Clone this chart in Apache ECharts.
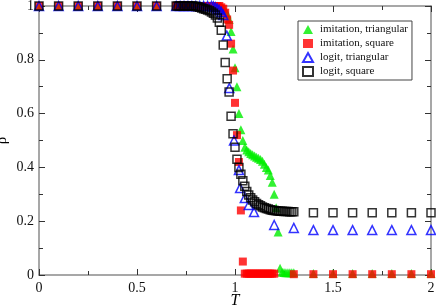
<!DOCTYPE html>
<html>
<head>
<meta charset="utf-8">
<script src="https://cdn.jsdelivr.net/npm/echarts@6/dist/echarts.min.js"></script>
<style>html,body{margin:0;padding:0;background:#fff}#c{width:436px;height:308px}</style>
</head>
<body>
<div id="c"></div>
<script>
// Temperatures (T) and densities (rho)
var coarseT = [0, 0.1, 0.2, 0.3, 0.4, 0.5, 0.6];
var coarseRho = [1, 1, 1, 1, 1, 1, 1];

// imitation, triangular (green)
var imTriT = [0.70,0.71,0.72,0.73,0.74,0.75,0.76,0.77,0.78,0.79,0.80,0.81,0.82,0.83,0.84,0.85,0.86,0.87,0.88,0.89,0.90,
  0.91,0.92,0.93,0.94,0.95,0.96,0.97,0.98,0.99,1.00,1.01,1.02,1.03,1.04,1.05,1.06,1.07,1.08,1.09,1.10,
  1.11,1.12,1.13,1.14,1.15,1.16,1.17,1.18,1.19,1.20,1.21,1.22,1.23,1.24,1.25,1.26,1.27,1.28,1.29,1.30,
  1.4,1.5,1.6,1.7,1.8,1.9,2.0];
var imTriRho = [1,1,1,1,1,1,1,1,1,1,1,1,1,1,1,1,1,1,1,1,1,
  0.999,0.998,0.995,0.99,0.985,0.97,0.95,0.905,0.84,0.77,0.70,0.60,0.54,0.50,0.475,0.465,0.458,0.452,0.447,0.442,
  0.438,0.434,0.429,0.423,0.412,0.40,0.39,0.37,0.345,0.30,0.25,0.16,0.025,0.01,0.009,0.008,0.008,0.008,0.008,0.008,
  0.006,0.006,0.006,0.006,0.006,0.006,0.006];

// imitation, square (red)
var imSqT = [0.70,0.71,0.72,0.73,0.74,0.75,0.76,0.77,0.78,0.79,0.80,0.81,0.82,0.83,0.84,0.85,0.86,0.87,0.88,0.89,0.90,
  0.91,0.92,0.93,0.94,0.95,0.96,0.97,0.98,0.99,1.00,1.01,1.02,1.03,1.04,1.05,1.06,1.07,1.08,1.09,1.10,
  1.11,1.12,1.13,1.14,1.15,1.16,1.17,1.18,1.19,1.20,
  1.3,1.4,1.5,1.6,1.7,1.8,1.9,2.0];
var imSqRho = [1,1,1,1,1,1,1,1,1,1,1,1,1,1,1,1,1,1,1,1,1,
  1,1,0.995,0.99,0.975,0.95,0.93,0.86,0.76,0.64,0.52,0.42,0.24,0.05,0.005,0.005,0.005,0.005,0.005,0.005,
  0.005,0.005,0.005,0.005,0.005,0.005,0.005,0.005,0.005,0.005,
  0.003,0.003,0.003,0.003,0.003,0.003,0.003,0.003];

// logit, triangular (blue)
var loTriT = [0.70,0.72,0.74,0.76,0.78,0.80,0.82,0.84,0.86,0.88,0.89,0.90,0.91,0.92,0.93,
  0.94,0.958,0.971,0.995,1.02,1.026,1.05,1.07,1.097,1.2,1.3,1.4,1.5,1.6,1.7,1.8,1.9,2.0];
var loTriRho = [1,1,1,1,1,1,1,1,1,1,0.998,0.995,0.99,0.985,0.978,
  0.967,0.89,0.695,0.50,0.39,0.323,0.286,0.26,0.234,0.186,0.175,0.167,0.167,0.167,0.167,0.167,0.167,0.167];

// logit, square (black)
var loSqT = [0.70,0.71,0.72,0.73,0.74,0.75,0.76,0.77,0.78,0.79,0.80,0.81,0.82,0.83,0.84,0.85,0.86,0.87,0.88,0.89,0.90,
  0.91,0.92,0.93,0.94,0.95,0.96,0.97,0.98,0.99,1.00,1.01,1.02,1.03,1.04,1.05,1.06,1.07,1.08,1.09,1.10,
  1.11,1.12,1.13,1.14,1.15,1.16,1.17,1.18,1.19,1.20,1.21,1.22,1.23,1.24,1.25,1.26,1.27,1.28,1.29,1.30,
  1.4,1.5,1.6,1.7,1.8,1.9,2.0];
var loSqRho = [1,1,1,1,1,1,1,1,1,1,0.998,0.997,0.995,0.993,0.99,0.988,0.985,0.982,0.978,0.973,0.967,
  0.955,0.94,0.91,0.855,0.79,0.73,0.68,0.59,0.525,0.475,0.43,0.40,0.375,0.35,0.33,0.31,0.297,0.287,0.279,0.272,
  0.266,0.261,0.257,0.253,0.250,0.247,0.245,0.243,0.241,0.240,0.239,0.238,0.237,0.237,0.236,0.236,0.236,0.235,0.235,0.235,
  0.231,0.231,0.231,0.231,0.231,0.231,0.231];

var xTicks = [0, 0.5, 1, 1.5, 2];
var yTicks = [0, 0.2, 0.4, 0.6, 0.8, 1];

function pts(tA, rA) {
  var out = [];
  for (var i = 0; i < coarseT.length; i++) out.push([coarseT[i], coarseRho[i]]);
  for (var j = 0; j < tA.length; j++) out.push([tA[j], rA[j]]);
  return out;
}

var serif = 'Liberation Serif, Times New Roman, serif';
var axisCol = '#8a8a8a';

function mkX(pos, show) {
  return {
    type: 'value', position: pos, min: xTicks[0], max: xTicks[xTicks.length-1], interval: 0.5,
    name: show ? 'T' : '', nameLocation: 'middle', nameGap: 18, nameMoveOverlap: false,
    nameTextStyle: {fontFamily: serif, fontStyle: 'italic', fontSize: 16, color: '#000', verticalAlign: 'top'},
    axisLine: {show: true, onZero: false, lineStyle: {color: axisCol, width: 1.5}},
    axisTick: {show: true, inside: true, length: 6, lineStyle: {color: '#333', width: 1}},
    minorTick: {show: true, splitNumber: 2, length: 4, lineStyle: {color: '#333', width: 1}},
    splitLine: {show: false},
    axisLabel: {show: show, fontFamily: serif, fontSize: 14, color: '#111', margin: 6}
  };
}
function mkY(pos, show) {
  return {
    type: 'value', position: pos, min: yTicks[0], max: yTicks[yTicks.length-1], interval: 0.2,
    name: show ? 'ρ' : '', nameLocation: 'middle', nameGap: 29, nameRotate: 90, nameMoveOverlap: false,
    nameTextStyle: {fontFamily: serif, fontSize: 15, color: '#000'},
    axisLine: {show: true, onZero: false, lineStyle: {color: axisCol, width: 1.5}},
    axisTick: {show: true, inside: true, length: 6, lineStyle: {color: '#333', width: 1}},
    minorTick: {show: true, splitNumber: 2, length: 4, lineStyle: {color: '#333', width: 1}},
    splitLine: {show: false},
    axisLabel: {show: show, fontFamily: serif, fontSize: 14, color: '#111', margin: 5}
  };
}

var chart = echarts.init(document.getElementById('c'), null, {renderer: 'canvas'});
chart.setOption({
  animation: false,
  backgroundColor: '#fff',
  grid: {left: 39, right: 5, top: 6, bottom: 33, containLabel: false, outerBoundsMode: 'none'},
  xAxis: [mkX('bottom', true), mkX('top', false)],
  yAxis: [mkY('left', true), mkY('right', false)],
  legend: {
    left: 298, top: 21, orient: 'vertical', itemGap: 3, itemWidth: 10, itemHeight: 9,
    padding: [3, 4, 3, 4], borderColor: '#444', borderWidth: 1, backgroundColor: '#fff',
    textStyle: {fontFamily: serif, fontSize: 11, color: '#111', padding: [0, 0, 0, 2]},
    data: ['imitation, triangular', 'imitation, square', 'logit, triangular', 'logit, square']
  },
  series: [
    {name: 'imitation, triangular', type: 'scatter', clip: false, symbol: 'triangle', symbolSize: 9,
     itemStyle: {color: '#00ee00'}, data: pts(imTriT, imTriRho)},
    {name: 'imitation, square', type: 'scatter', clip: false, symbol: 'rect', symbolSize: 8,
     itemStyle: {color: '#ff0000'}, data: pts(imSqT, imSqRho)},
    {name: 'logit, triangular', type: 'scatter', clip: false, symbol: 'triangle', symbolSize: 9,
     itemStyle: {color: 'rgba(255,255,255,0)', borderColor: '#0000ff', borderWidth: 1.5}, data: pts(loTriT, loTriRho)},
    {name: 'logit, square', type: 'scatter', clip: false, symbol: 'rect', symbolSize: 8,
     itemStyle: {color: 'rgba(255,255,255,0)', borderColor: '#000000', borderWidth: 1.5}, data: pts(loSqT, loSqRho)}
  ]
});
</script>
</body>
</html>
